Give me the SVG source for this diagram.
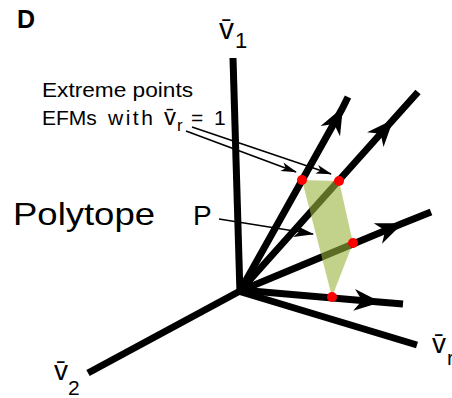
<svg xmlns="http://www.w3.org/2000/svg" width="452" height="398" viewBox="0 0 452 398">
<style>
.ax{stroke:#000;stroke-width:7;fill:none;stroke-linecap:butt}
.ray{stroke:#000;stroke-width:7;fill:none;stroke-linecap:butt;marker-mid:url(#big)}
.thin{stroke:#000;stroke-width:1.6;fill:none}
.t{font-family:"Liberation Sans",Arial,sans-serif;fill:#000}
.dot{fill:#ff0000}
</style>
<defs>
<marker id="big" markerUnits="userSpaceOnUse" orient="auto" overflow="visible" markerWidth="1" markerHeight="1">
<path d="M2,0 L-25,-11 L-17,0 L-25,11 Z" fill="#000"/>
</marker>
<marker id="small" markerUnits="userSpaceOnUse" orient="auto" overflow="visible" markerWidth="1" markerHeight="1">
<path d="M1,0 L-15,-4.5 L-11,0 L-15,4.5 Z" fill="#000"/>
</marker>
<marker id="mid" markerUnits="userSpaceOnUse" orient="auto" overflow="visible" markerWidth="1" markerHeight="1">
<path d="M1,0 L-19,-6 L-14,0 L-19,6 Z" fill="#000"/>
</marker>
</defs>
<rect width="452" height="398" fill="#fff"/>
<g id="connectors">
<line id="axis-v1" class="ax" x1="233" y1="58" x2="240" y2="294"/>
<line id="axis-v2" class="ax" x1="240" y1="291" x2="88" y2="373"/>
<line id="axis-vr" class="ax" x1="238" y1="291" x2="417" y2="345"/>
<path id="ray1" class="ray" d="M240,291 L342,109 L348,97"/>
<path id="ray2" class="ray" d="M240,291 L392,121 L418,92"/>
<path id="ray3" class="ray" d="M240,291 L401,224 L431,212"/>
<path id="ray4" class="ray" d="M240,290 L379,302 L403,304"/>
<line class="thin" x1="186" y1="131" x2="296" y2="172" marker-end="url(#small)"/>
<line class="thin" x1="192" y1="127" x2="331" y2="174" marker-end="url(#small)"/>
<line class="thin" x1="219" y1="219" x2="313" y2="234" marker-end="url(#mid)"/>
</g>
<g id="polytope">
<polygon points="302,180 339,181 353,243 332,297" fill="#9bb43c" fill-opacity="0.6"/>
<circle class="dot" cx="302" cy="180" r="5"/>
<circle class="dot" cx="339" cy="181" r="5"/>
<circle class="dot" cx="353" cy="243" r="5"/>
<circle class="dot" cx="332" cy="297" r="5"/>
</g>
<g id="labels">
<text class="t" x="17" y="28" font-size="25" font-weight="bold">D</text>
<text class="t" x="219" y="39" font-size="30">v̄</text>
<text class="t" x="235" y="48" font-size="22">1</text>
<text class="t" x="54" y="380" font-size="28">v̄</text>
<text class="t" x="68" y="395" font-size="21">2</text>
<text class="t" x="432" y="353" font-size="28">v̄</text>
<text class="t" x="447" y="365" font-size="21">r</text>
<text class="t" x="42" y="97" font-size="21" textLength="151" lengthAdjust="spacingAndGlyphs">Extreme points</text>
<text class="t" y="125" font-size="21"><tspan x="42">EFMs</tspan><tspan x="108" letter-spacing="2.5">with</tspan><tspan x="164" font-size="24">v̄</tspan><tspan x="177" y="131" font-size="17">r</tspan><tspan x="191" y="125">=</tspan><tspan x="214">1</tspan></text>
<text class="t" x="13" y="225" font-size="32" textLength="142" lengthAdjust="spacingAndGlyphs">Polytope</text>
<text class="t" x="193" y="225" font-size="28">P</text>
</g>
</svg>
